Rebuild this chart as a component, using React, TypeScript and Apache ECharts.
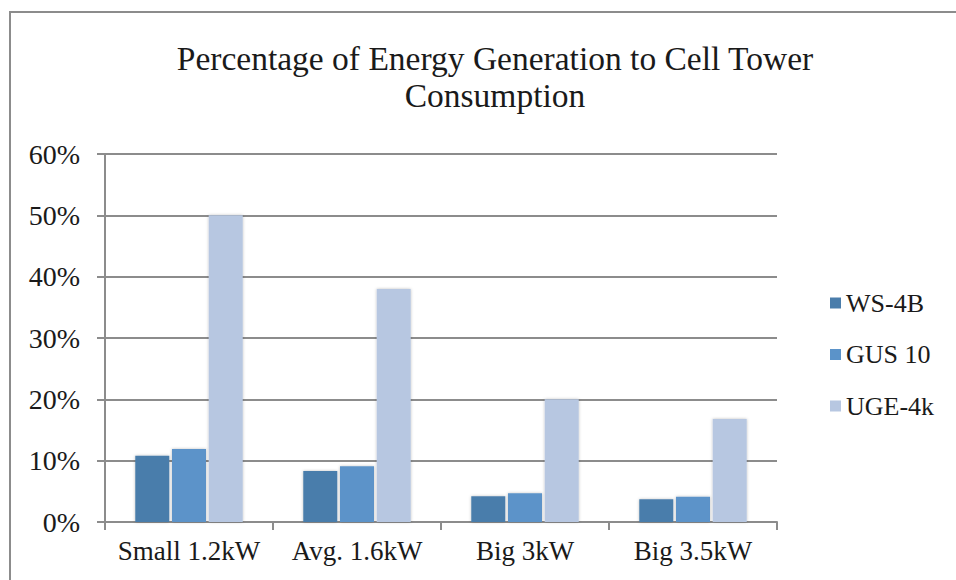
import React, { useEffect, useRef } from "react";
import * as echarts from "echarts";

const categories = ["Small 1.2kW", "Avg. 1.6kW", "Big 3kW", "Big 3.5kW"];
const seriesNames = ["WS-4B", "GUS 10", "UGE-4k"];
const ws4b = [10.8, 8.3, 4.2, 3.7];
const gus10 = [11.9, 9.1, 4.7, 4.1];
const uge4k = [50.0, 38.0, 20.0, 16.8];
const colors = ["#4A7DAB", "#5B93C9", "#B7C7E1"];
const titleText = "Percentage of Energy Generation to Cell Tower\nConsumption";

const FONT = "Liberation Serif";

export default function App() {
  const ref = useRef<HTMLDivElement>(null);
  useEffect(() => {
    if (!ref.current) return;
    const chart = echarts.init(ref.current, undefined, { renderer: "svg" });
    const data = [ws4b, gus10, uge4k];
    chart.setOption({
      animation: false,
      backgroundColor: "#ffffff",
      textStyle: { fontFamily: FONT },
      title: {
        text: titleText,
        left: 490,
        top: 35,
        textAlign: "center",
        textStyle: { fontFamily: FONT, fontSize: 33.5, fontWeight: "normal", color: "#1a1a1a", lineHeight: 37 },
      },
      graphic: [
        {
          type: "rect",
          shape: { x: 10, y: 12, width: 980, height: 620 },
          style: { fill: "none", stroke: "#8c8c8c", lineWidth: 2 },
          silent: true,
        },
      ],
      legend: {
        orient: "vertical",
        left: 825,
        top: 285,
        itemWidth: 11,
        itemHeight: 11,
        itemGap: 25.5,
        icon: "rect",
        data: seriesNames,
        textStyle: { fontFamily: FONT, fontSize: 26, color: "#1a1a1a", lineHeight: 26 },
      },
      grid: { left: 105, top: 154, right: 179, bottom: 58, containLabel: false },
      xAxis: {
        type: "category",
        data: categories,
        axisLine: { lineStyle: { color: "#8c8c8c", width: 2 } },
        axisTick: { show: true, length: 8, lineStyle: { color: "#8c8c8c", width: 2 } },
        axisLabel: { fontFamily: FONT, fontSize: 27, color: "#1a1a1a", margin: 15, interval: 0 },
      },
      yAxis: {
        type: "value",
        min: 0,
        max: 60,
        interval: 10,
        axisLine: { show: true, lineStyle: { color: "#8c8c8c", width: 2 } },
        axisTick: { show: true, length: 8, lineStyle: { color: "#8c8c8c", width: 2 } },
        splitLine: { lineStyle: { color: "#8c8c8c", width: 2 } },
        axisLabel: { fontFamily: FONT, fontSize: 28, color: "#1a1a1a", margin: 25, formatter: "{value}%" },
      },
      series: seriesNames.map((name, i) => ({
        name,
        type: "bar",
        data: data[i],
        barWidth: 34,
        barGap: "8%",
        itemStyle: {
          color: colors[i],
          shadowBlur: 3,
          shadowColor: "rgba(0,0,0,0.25)",
        },
      })),
    });
    return () => chart.dispose();
  }, []);
  return <div ref={ref} style={{ position: "absolute", left: 0, top: 0, width: 956, height: 580 }} />;
}
